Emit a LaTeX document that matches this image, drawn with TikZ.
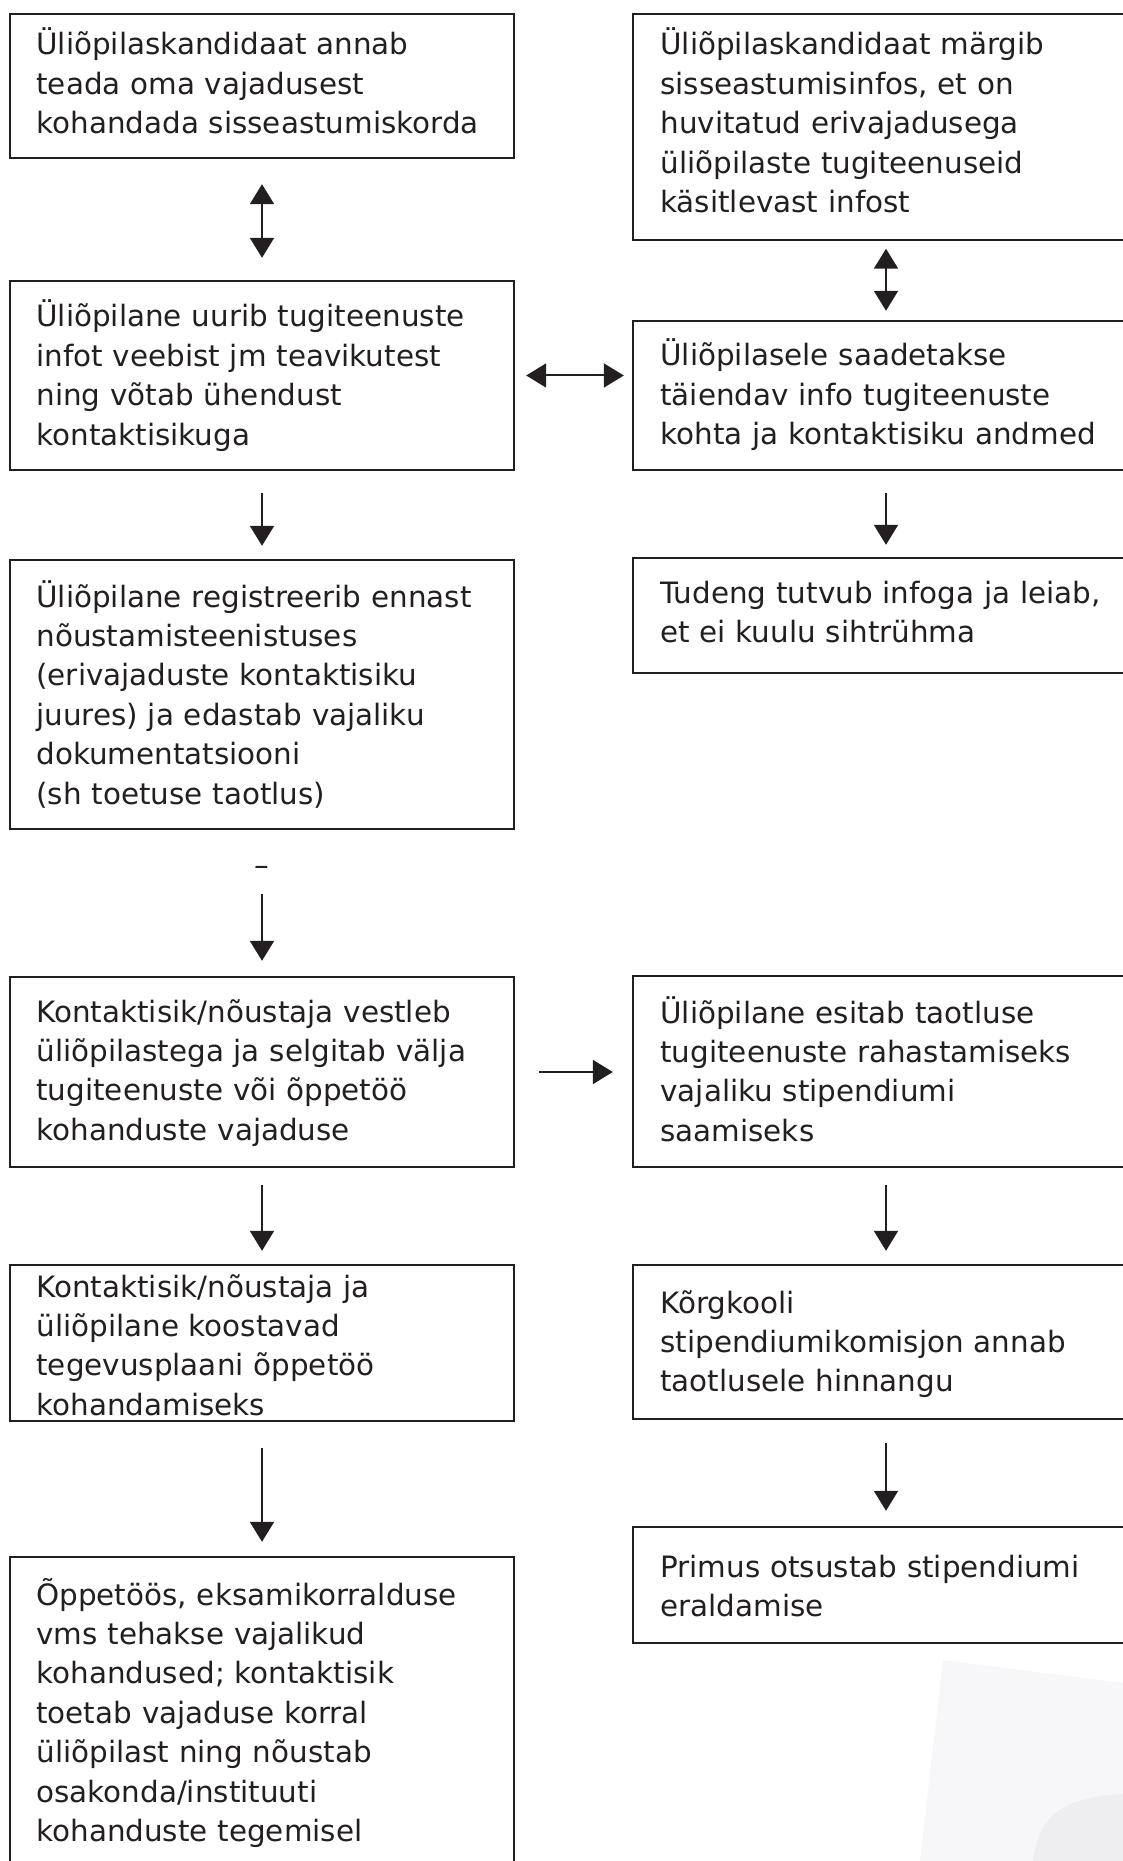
\documentclass[tikz,border=0pt]{standalone}
\usepackage{fontspec}
\setmainfont{DejaVu Sans}
\usetikzlibrary{arrows.meta, fit}
\definecolor{ink}{HTML}{231F20}
\definecolor{shadea}{HTML}{F7F7F9}
\definecolor{shadeb}{HTML}{EEEEF1}
\tikzset{
  box/.style = {draw=ink, line width=1.2pt, inner sep=0pt, rectangle},
  txt/.style = {anchor=base west, align=left, inner sep=0pt, text=ink,
    text width=250pt, font=\fontsize{14.7pt}{19.7pt}\selectfont},
  conn/.style = {draw=ink, line width=1pt}
}
\begin{document}
\begin{tikzpicture}[x=0.5pt, y=-0.5pt, >={Triangle[length=10pt, width=12pt]}]
\useasboundingbox (0,0) rectangle (1123,1861);
% faint shading in the lower right corner
\fill[shadea] (943,1660) -- (1123,1683) -- (1123,1861) -- (920,1861) -- cycle;
\fill[shadeb] (1033,1861) .. controls (1040,1815) and (1060,1798) .. (1123,1794) -- (1123,1861) -- cycle;

% left column
\node[box, fit={(10,14) (514,158)}] (l1) {};
\node[box, fit={(10,281) (514,470)}] (l2) {};
\node[box, fit={(10,560) (514,829)}] (l3) {};
\node[box, fit={(10,977) (514,1167)}] (l4) {};
\node[box, fit={(10,1265) (514,1421)}] (l5) {};
\node[box, fit={(10,1557) (514,1900)}] (l6) {};
% right column
\node[box, fit={(633,14) (1139,240)}] (r1) {};
\node[box, fit={(633,321) (1139,470)}] (r2) {};
\node[box, fit={(633,558) (1139,673)}] (r3) {};
\node[box, fit={(633,976) (1139,1167)}] (r4) {};
\node[box, fit={(633,1265) (1139,1419)}] (r5) {};
\node[box, fit={(633,1527) (1139,1643)}] (r6) {};

\node[txt] (l1t) at (36,55) {Üliõpilaskandidaat annab\\teada oma vajadusest\\kohandada sisseastumiskorda};
\node[txt] (l2t) at (36,327) {Üliõpilane uurib tugiteenuste\\infot veebist jm teavikutest\\ning võtab ühendust\\kontaktisikuga};
\node[txt] (l3t) at (36,607) {Üliõpilane registreerib ennast\\nõustamisteenistuses\\(erivajaduste kontaktisiku\\juures) ja edastab vajaliku\\dokumentatsiooni\\(sh toetuse taotlus)};
\node[txt] (l4t) at (36,1022) {Kontaktisik/nõustaja vestleb\\üliõpilastega ja selgitab välja\\tugiteenuste või õppetöö\\kohanduste vajaduse};
\node[txt] (l5t) at (36,1297) {Kontaktisik/nõustaja ja\\üliõpilane koostavad\\tegevusplaani õppetöö\\kohandamiseks};
\node[txt] (l6t) at (36,1605) {Õppetöös, eksamikorralduse\\vms tehakse vajalikud\\kohandused; kontaktisik\\toetab vajaduse korral\\üliõpilast ning nõustab\\osakonda/instituuti\\kohanduste tegemisel};

\node[txt] (r1t) at (660,55) {Üliõpilaskandidaat märgib\\sisseastumisinfos, et on\\huvitatud erivajadusega\\üliõpilaste tugiteenuseid\\käsitlevast infost};
\node[txt] (r2t) at (660,366) {Üliõpilasele saadetakse\\täiendav info tugiteenuste\\kohta ja kontaktisiku andmed};
\node[txt] (r3t) at (660,603) {Tudeng tutvub infoga ja leiab,\\et ei kuulu sihtrühma};
\node[txt] (r4t) at (660,1023) {Üliõpilane esitab taotluse\\tugiteenuste rahastamiseks\\vajaliku stipendiumi\\saamiseks};
\node[txt] (r5t) at (660,1313) {Kõrgkooli\\stipendiumikomisjon annab\\taotlusele hinnangu};
\node[txt] (r6t) at (660,1577) {Primus otsustab stipendiumi\\eraldamise};

\node[txt, anchor=base, text width=] (dash) at (262,875) {–};

% connectors
\draw[conn, <->, shorten <=12.5pt, shorten >=11pt] (l1) -- (l2);
\draw[conn, ->, shorten <=11pt, shorten >=6.5pt] (l2) -- (l3);
\draw[conn, ->, shorten <=32pt, shorten >=7.5pt] (l3) -- (l4);
\draw[conn, ->, shorten <=8.5pt, shorten >=6.5pt] (l4) -- (l5);
\draw[conn, ->, shorten <=13pt, shorten >=7pt] (l5) -- (l6);
\draw[conn, <->, shorten <=3.75pt, shorten >=4.5pt] (r1) -- (r2);
\draw[conn, ->, shorten <=11pt, shorten >=6pt] (r2) -- (r3);
\draw[conn, ->, shorten <=8.5pt, shorten >=6.5pt] (r4) -- (r5);
\draw[conn, ->, shorten <=11.5pt, shorten >=7.5pt] (r5) -- (r6);
\draw[conn, <->, shorten <=5.5pt, shorten >=4pt] (l2.east) -- (l2.east -| r2.west);
\draw[conn, ->, shorten <=12pt, shorten >=9.5pt] (l4.east) -- (l4.east -| r4.west);
\end{tikzpicture}
\end{document}
